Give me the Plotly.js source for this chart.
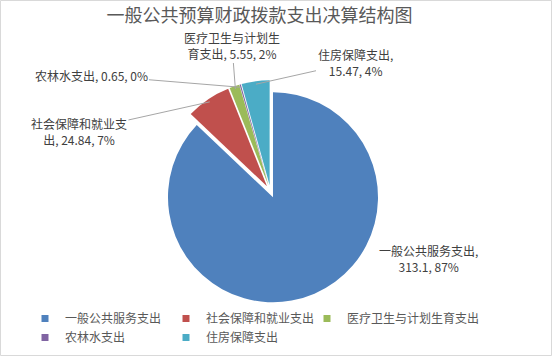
<!DOCTYPE html>
<html>
<head>
<meta charset="utf-8">
<script src="https://cdn.plot.ly/plotly-3.0.1.min.js"></script>
<style>html,body{margin:0;padding:0;background:#fff;}#chart{width:552px;height:356px;}</style>
</head>
<body>
<div id="chart"></div>
<script>
// ---- data ----
const categories = ['一般公共服务支出', '社会保障和就业支出', '医疗卫生与计划生育支出', '农林水支出', '住房保障支出'];
const values = [313.1, 24.84, 5.55, 0.65, 15.47];
const colors = ['#4F81BD', '#C0504D', '#9BBB59', '#8064A2', '#4BACC6'];
const labelBreakAt = [9, 8, 8, -1, 7];            // where the data label wraps
const legendColumn = [0, 1, 2, 0, 1];             // legend column of each category
const chartTitle = '一般公共预算财政拨款支出决算结构图';

// ---- layout constants (pixels) ----
const W = 552, H = 356;
const cx = 270.5, cy = 191.5, R = 105, PULL = 0.06;
const labelCenters = [[428, 258], [79, 131], [232, 45], [91, 75], [355, 62]];
const legendX = [25, 166, 307], legendTop = 304;

const total = values.reduce((a, b) => a + b, 0);
const pct = values.map(v => Math.round(v / total * 100) + '%');

function labelText(i) {
  let s = categories[i] + ', ' + values[i] + ', ' + pct[i];
  const b = labelBreakAt[i];
  if (b > 0) s = s.slice(0, b) + '<br>' + s.slice(b).replace(/^ /, '');
  return s;
}

const half = R * (1 + PULL);
const domain = {
  x: [(cx - half) / W, (cx + half) / W],
  y: [1 - (cy + half) / H, 1 - (cy - half) / H]
};

const labelFont = {family: 'Noto Sans CJK SC, sans-serif', size: 12, color: '#404040'};

// annotation tips at each slice's mid-angle, from the data
let cum = 0;
const annotations = values.map((v, i) => {
  const mid = (cum + v / 2) / total; cum += v;
  const th = mid * 2 * Math.PI;
  const pcx = cx + PULL * R * Math.sin(th), pcy = cy - PULL * R * Math.cos(th);
  const rr = R - 3;
  const tx = pcx + rr * Math.sin(th), ty = pcy - rr * Math.cos(th);
  const [lx, ly] = labelCenters[i];
  if (i === 0) {
    return {xref: 'paper', yref: 'paper', x: lx / W, y: 1 - ly / H, text: labelText(i), showarrow: false,
      font: labelFont, align: 'center', xanchor: 'center', yanchor: 'middle'};
  }
  return {
    xref: 'paper', yref: 'paper', x: tx / W, y: 1 - ty / H,
    ax: lx - tx, ay: ly - ty,
    text: labelText(i), showarrow: true, arrowhead: 0, arrowwidth: 1, arrowcolor: '#A6A6A6',
    standoff: 0, startstandoff: 0,
    font: labelFont, align: 'center', xanchor: 'center', yanchor: 'middle'
  };
});

const pieTrace = {
  type: 'pie',
  labels: categories,
  values: values,
  marker: {colors: colors, line: {width: 0}},
  sort: false,
  direction: 'clockwise',
  rotation: 0,
  pull: values.map(() => PULL),
  textinfo: 'none',
  hoverinfo: 'label+value+percent',
  showlegend: false,
  domain: domain
};

// legend entries (one per category), arranged in columns like the reference
const legendNames = ['legend', 'legend2', 'legend3'];
const legendTraces = categories.map((c, i) => ({
  type: 'scatter', mode: 'markers', x: [null], y: [null], name: c,
  marker: {symbol: 'square', size: 7, color: colors[i]},
  legend: legendNames[legendColumn[i]], showlegend: true, hoverinfo: 'skip'
}));

function legendCfg(col) {
  return {
    orientation: 'v', x: legendX[col] / W, xanchor: 'left', y: 1 - legendTop / H, yanchor: 'top',
    traceorder: 'normal', font: {size: 12, color: '#595959'}, itemwidth: 30, tracegroupgap: 0,
    bgcolor: 'rgba(0,0,0,0)'
  };
}

const layout = {
  width: W, height: H,
  margin: {l: 0, r: 0, t: 0, b: 0},
  paper_bgcolor: '#fff',
  plot_bgcolor: 'rgba(0,0,0,0)',
  font: {family: 'Noto Sans CJK SC, sans-serif', color: '#595959'},
  title: {text: chartTitle, font: {size: 18, color: '#595959'}, x: 0.47, xanchor: 'center', y: 1 - 16 / H, yanchor: 'middle'},
  showlegend: true,
  xaxis: {visible: false, range: [0, 1]},
  yaxis: {visible: false, range: [0, 1]},
  legend: legendCfg(0),
  legend2: legendCfg(1),
  legend3: legendCfg(2),
  annotations: annotations,
  shapes: [{type: 'rect', xref: 'paper', yref: 'paper', x0: 0.5 / W, x1: 1 - 0.5 / W, y0: 0.5 / H, y1: 1 - 0.5 / H,
    line: {color: '#D9D9D9', width: 1}}]
};

Plotly.newPlot('chart', [pieTrace].concat(legendTraces), layout, {displayModeBar: false, staticPlot: true});
</script>
</body>
</html>
